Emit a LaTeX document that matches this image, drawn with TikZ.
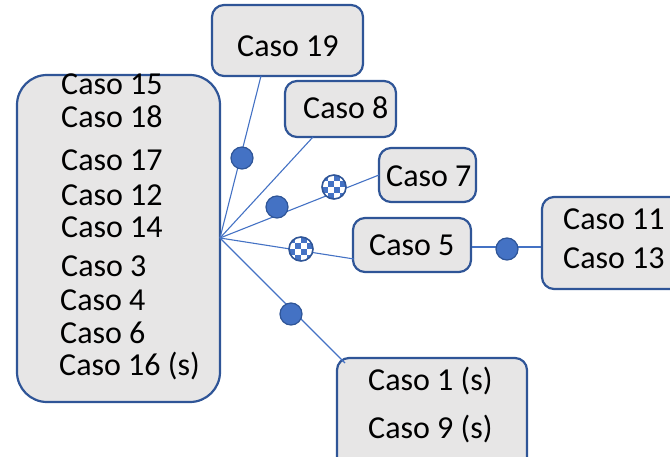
\documentclass[tikz,border=0pt]{standalone}
\usepackage{fontspec}
\setmainfont{Carlito}
\definecolor{bord}{HTML}{2F5597}
\definecolor{lin}{HTML}{4472C4}
\definecolor{boxfill}{HTML}{E7E6E6}
\begin{document}
\begin{tikzpicture}[x=1pt,y=-1pt,
  box/.style={draw=bord,fill=boxfill,line width=2.2pt,rounded corners=12pt,inner sep=0pt},
  txt/.style={font=\fontsize{32}{38}\selectfont,anchor=base west,inner sep=0pt},
  conn/.style={draw=lin,line width=1.1pt},
  dot/.style={circle,fill=lin,draw=bord,line width=1.2pt,minimum size=22pt,inner sep=0pt},
  chk/.style={circle,fill=white,draw=bord,line width=1.6pt,minimum size=24pt,inner sep=0pt,
    path picture={\begin{scope}[shift={(path picture bounding box.center)}]
      \foreach \i in {0,1,2,3}{\foreach \j in {0,1,2,3}{
        \pgfmathparse{int(mod(\i+\j,2))}
        \ifnum\pgfmathresult=0 \fill[lin] (-12+6*\i,-12+6*\j) rectangle ++(6,6);\fi}}
      \end{scope}}}]
\useasboundingbox (0,0) rectangle (670,457);
\begin{scope}
\clip (0,0) rectangle (670,457);
% boxes
\node[box,rounded corners=30pt,minimum width=203pt,minimum height=327pt] (big) at (118.5,238.5) {};
\node[box,minimum width=151pt,minimum height=71pt] (b19) at (287.5,40.5) {};
\node[box,minimum width=111pt,minimum height=56pt] (b8) at (340.5,109) {};
\node[box,minimum width=97pt,minimum height=54pt] (b7) at (427.5,175) {};
\node[box,minimum width=118pt,minimum height=54pt] (b5) at (412,245) {};
\node[box,minimum width=150pt,minimum height=92pt] (b11) at (617,243) {};
\node[box,minimum width=190pt,minimum height=130pt] (b1) at (432,423) {};
% hub and connector ends
\coordinate (hub) at (220,238);
\coordinate (e19) at (261,76);
\coordinate (e8) at (313,137);
\coordinate (e7) at (379,175);
\coordinate (e5) at (354,259);
\coordinate (e1) at (345,363);
\draw[conn] (hub) -- (e19);
\draw[conn] (hub) -- (e8);
\draw[conn] (hub) -- (e7);
\draw[conn] (hub) -- (e5);
\draw[conn] (hub) -- (e1);
\draw[conn] (b5.east |- 0,247) coordinate (e5r) -- (b11.west |- e5r);
% markers
\node[dot] (d19) at (242,158) {};
\node[dot] (d7) at (277,207) {};
\node[dot] (d11) at (507,249) {};
\node[dot] (d1) at (291,314) {};
\node[chk] (c7) at (334,187) {};
\node[chk] (c5) at (301,249) {};
% texts
\node[txt] (t15) at (61,95) {Caso 15};
\node[txt] (t18) at (61,128) {Caso 18};
\node[txt] (t17) at (61,171) {Caso 17};
\node[txt] (t12) at (61,206) {Caso 12};
\node[txt] (t14) at (61,238) {Caso 14};
\node[txt] (t3) at (61,277) {Caso 3};
\node[txt] (t4) at (60,311) {Caso 4};
\node[txt] (t6) at (60,344) {Caso 6};
\node[txt] (t16) at (59,376) {Caso 16 (s)};
\node[txt] (t19) at (237,57) {Caso 19};
\node[txt] (t8) at (303,119) {Caso 8};
\node[txt] (t7) at (386,187) {Caso 7};
\node[txt] (t5) at (369,256) {Caso 5};
\node[txt] (t11) at (563,230) {Caso 11};
\node[txt] (t13) at (563,269) {Caso 13};
\node[txt] (t1) at (368,390) {Caso 1 (s)};
\node[txt] (t9) at (368,438) {Caso 9 (s)};
\end{scope}
\end{tikzpicture}
\end{document}
